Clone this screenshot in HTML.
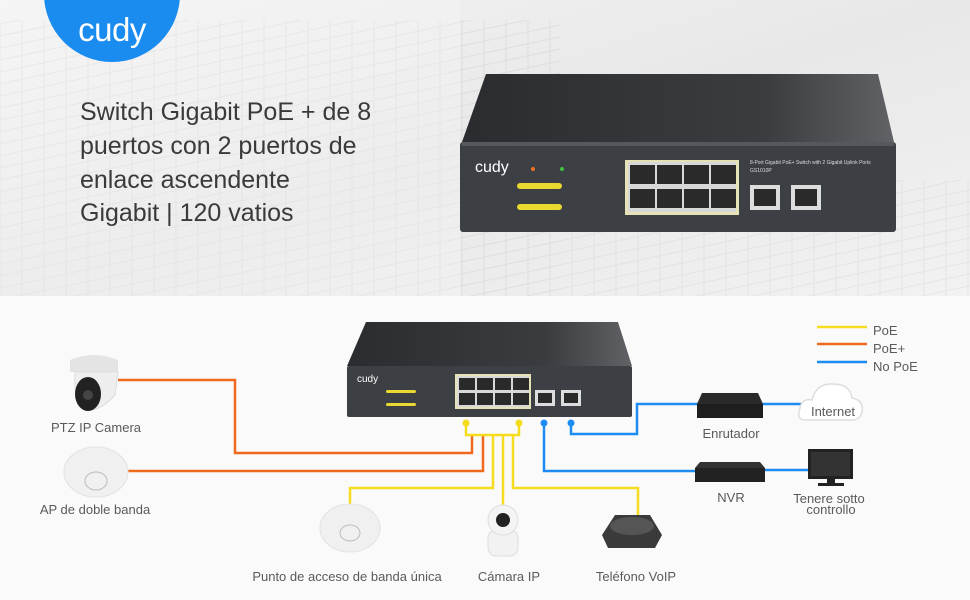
<!DOCTYPE html>
<html><head><meta charset="utf-8"><style>
html,body{margin:0;padding:0;width:970px;height:600px;overflow:hidden;background:#fafafa}
svg{display:block}
text{font-family:"Liberation Sans",sans-serif}
</style></head><body>
<svg width="970" height="600" viewBox="0 0 970 600" xmlns="http://www.w3.org/2000/svg">
<defs>
<linearGradient id="bg" x1="0" y1="0" x2="1" y2="1">
<stop offset="0" stop-color="#f4f4f4"/><stop offset="0.5" stop-color="#e8e8e8"/><stop offset="1" stop-color="#f2f2f2"/></linearGradient>
<linearGradient id="top" x1="0" y1="0" x2="1" y2="0"><stop offset="0" stop-color="#2a2c30"/><stop offset="0.7" stop-color="#3a3c40"/><stop offset="1" stop-color="#606266"/></linearGradient>
<pattern id="grid" width="22" height="12" patternUnits="userSpaceOnUse" patternTransform="skewY(-12)">
<rect width="22" height="12" fill="none" stroke="#d2d2d2" stroke-width="1"/></pattern>
</defs>
<rect x="0" y="0" width="970" height="300" fill="url(#bg)"/>
<rect x="0" y="20" width="560" height="280" fill="url(#grid)" opacity="0.55"/>
<rect x="560" y="180" width="410" height="120" fill="url(#grid)" opacity="0.4"/>
<rect x="0" y="0" width="460" height="300" fill="#f6f6f6" opacity="0.35"/>
<rect x="0" y="296" width="970" height="304" fill="#fafafa"/>
<!-- logo -->
<circle cx="112" cy="-6" r="68" fill="#1a8cf0"/>
<text x="112" y="41" text-anchor="middle" font-size="33" fill="#fff" letter-spacing="-0.5">cudy</text>
<!-- title -->
<g font-size="25" fill="#3a3a3a">
<text x="80" y="120">Switch Gigabit PoE + de 8</text>
<text x="80" y="154">puertos con 2 puertos de</text>
<text x="80" y="188">enlace ascendente</text>
<text x="80" y="221">Gigabit | 120 vatios</text>
</g>
<!-- big switch -->
<polygon points="486,74 878,74 894,142 462,142" fill="url(#top)"/>
<rect x="460" y="142" width="436" height="90" rx="3" fill="#3c3f44"/>
<rect x="462" y="142" width="432" height="4" fill="#55585d"/>
<text x="475" y="172" font-size="16" fill="#fff">cudy</text>
<rect x="517" y="183" width="45" height="6" rx="3" fill="#e8d830"/>
<rect x="517" y="204" width="45" height="6" rx="3" fill="#e8d830"/>
<circle cx="533" cy="169" r="2" fill="#f07020"/><circle cx="562" cy="169" r="2" fill="#40c040"/>
<rect x="625" y="160" width="114" height="55" fill="#e6e2b8"/>
<rect x="628" y="162" width="108" height="50" fill="#d8d8d8"/>
<g fill="#2a2a2a">
<rect x="630" y="165" width="25" height="19"/><rect x="657" y="165" width="25" height="19"/><rect x="684" y="165" width="25" height="19"/><rect x="711" y="165" width="25" height="19"/>
<rect x="630" y="189" width="25" height="19"/><rect x="657" y="189" width="25" height="19"/><rect x="684" y="189" width="25" height="19"/><rect x="711" y="189" width="25" height="19"/>
</g>
<rect x="750" y="185" width="30" height="25" fill="#ddd"/><rect x="754" y="189" width="22" height="17" fill="#2a2a2a"/>
<rect x="791" y="185" width="30" height="25" fill="#ddd"/><rect x="795" y="189" width="22" height="17" fill="#2a2a2a"/>
<text x="750" y="164" font-size="5" fill="#ddd">8-Port Gigabit PoE+ Switch with 2 Gigabit Uplink Ports</text>
<text x="750" y="172" font-size="5" fill="#ddd">GS1010P</text>
<!-- small switch -->
<polygon points="366,322 618,322 632,366 347,366" fill="url(#top)"/>
<rect x="347" y="366" width="285" height="51" rx="2" fill="#3c3f44"/>
<text x="357" y="382" font-size="10" fill="#fff">cudy</text>
<rect x="386" y="390" width="30" height="3" rx="1.5" fill="#e8d830"/>
<rect x="386" y="403" width="30" height="3" rx="1.5" fill="#e8d830"/>
<rect x="455" y="374" width="76" height="35" fill="#e6e2b8"/>
<rect x="457" y="376" width="72" height="31" fill="#d8d8d8"/>
<g fill="#2a2a2a">
<rect x="459" y="378" width="16" height="12"/><rect x="477" y="378" width="16" height="12"/><rect x="495" y="378" width="16" height="12"/><rect x="513" y="378" width="16" height="12"/>
<rect x="459" y="393" width="16" height="12"/><rect x="477" y="393" width="16" height="12"/><rect x="495" y="393" width="16" height="12"/><rect x="513" y="393" width="16" height="12"/>
</g>
<rect x="535" y="390" width="20" height="16" fill="#ddd"/><rect x="538" y="393" width="14" height="10" fill="#2a2a2a"/>
<rect x="561" y="390" width="20" height="16" fill="#ddd"/><rect x="564" y="393" width="14" height="10" fill="#2a2a2a"/>
<!-- lines -->
<g fill="none" stroke-width="2.5">
<g stroke="#f06a1e">
<polyline points="118,380 235,380 235,453 472,453 472,435"/>
<polyline points="128,471 483,471 483,435"/>
</g>
<g stroke="#f5dc1e">
<polyline points="466,423 466,435 519,435 519,423"/>
<polyline points="493,435 493,488 350,488 350,512"/>
<polyline points="503,435 503,512"/>
<polyline points="513,435 513,488 638,488 638,515"/>
<line x1="817" y1="327" x2="867" y2="327"/>
</g>
<g stroke="#1e8cf0">
<polyline points="544,423 544,471 696,471"/>
<polyline points="571,423 571,434 637,434 637,404 698,404"/>
<line x1="762" y1="404" x2="801" y2="404"/>
<line x1="765" y1="470" x2="810" y2="470"/>
<line x1="817" y1="362" x2="867" y2="362"/>
</g>
<line x1="817" y1="344" x2="867" y2="344" stroke="#f06a1e"/>
</g>
<circle cx="466" cy="423" r="3.5" fill="#f5dc1e"/><circle cx="519" cy="423" r="3.5" fill="#f5dc1e"/>
<circle cx="544" cy="423" r="3.5" fill="#1e8cf0"/><circle cx="571" cy="423" r="3.5" fill="#1e8cf0"/>
<g font-size="13" fill="#5a5a5a">
<text x="873" y="335">PoE</text><text x="873" y="353">PoE+</text><text x="873" y="371">No PoE</text>
</g>
<!-- devices -->
<path d="M70,360 Q93,350 118,360 L118,372 L70,372Z" fill="#e4e4e4"/>
<path d="M75,372 L118,372 L115,395 Q100,412 85,410 Q73,402 75,372Z" fill="#eee" stroke="#ddd"/>
<ellipse cx="88" cy="394" rx="13" ry="17" fill="#222"/>
<circle cx="88" cy="395" r="5" fill="#444"/>
<ellipse cx="96" cy="472" rx="32" ry="25" fill="#f0f0f0" stroke="#e2e2e2"/>
<ellipse cx="96" cy="481" rx="11" ry="9" fill="none" stroke="#bbb"/>
<ellipse cx="350" cy="528" rx="30" ry="24" fill="#f0f0f0" stroke="#e2e2e2"/>
<ellipse cx="350" cy="533" rx="10" ry="8" fill="none" stroke="#bbb"/>
<rect x="488" y="530" width="30" height="26" rx="8" fill="#f2f2f2" stroke="#ddd"/>
<circle cx="503" cy="520" r="15" fill="#f4f4f4" stroke="#ddd"/>
<circle cx="503" cy="520" r="7" fill="#222"/>
<path d="M602,535 L615,515 L650,515 L662,535 L655,548 L608,548Z" fill="#3a3a3a"/>
<ellipse cx="632" cy="526" rx="22" ry="9" fill="#555"/>
<polygon points="702,393 758,393 763,404 697,404" fill="#2a2a2a"/>
<rect x="697" y="404" width="66" height="14" fill="#1e1e1e"/>
<path d="M805,420 Q796,420 800,408 Q802,398 812,400 Q816,383 833,384 Q850,384 852,398 Q864,400 862,412 Q860,420 852,420Z" fill="#fff" stroke="#ddd" stroke-width="1.5"/>
<polygon points="700,462 760,462 765,468 695,468" fill="#333"/>
<rect x="695" y="468" width="70" height="14" fill="#222"/>
<rect x="808" y="449" width="45" height="30" fill="#222"/><rect x="811" y="452" width="39" height="24" fill="#333"/>
<rect x="827" y="479" width="8" height="4" fill="#222"/><rect x="818" y="483" width="26" height="3" fill="#222"/>
<g font-size="13" fill="#5a5a5a" text-anchor="middle">
<text x="96" y="432">PTZ IP Camera</text>
<text x="95" y="514">AP de doble banda</text>
<text x="347" y="581">Punto de acceso de banda única</text>
<text x="509" y="581">Cámara IP</text>
<text x="636" y="581">Teléfono VoIP</text>
<text x="731" y="438">Enrutador</text>
<text x="833" y="416">Internet</text>
<text x="731" y="502">NVR</text>
<text x="829" y="503">Tenere sotto</text>
<text x="831" y="514">controllo</text>
</g>
</svg>
</body></html>
